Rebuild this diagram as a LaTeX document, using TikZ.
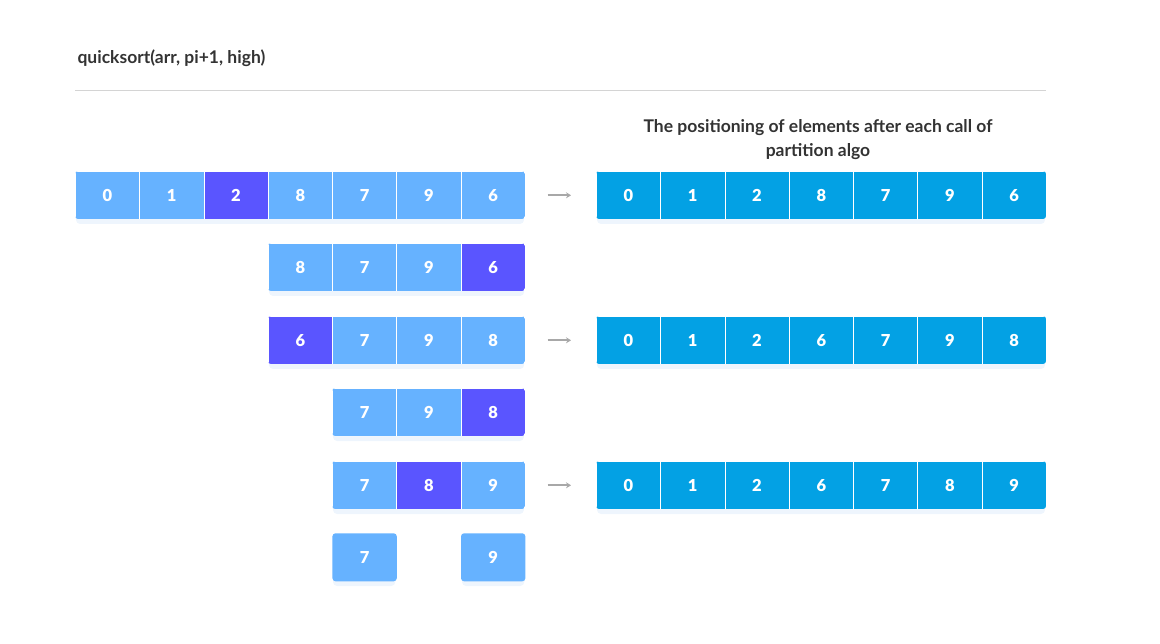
\documentclass[tikz,border=0pt]{standalone}
\usepackage{fontspec}
\setmainfont{Lato}
\newfontfamily\cellfont{Lato Black}
\usepackage{xcolor}
\usetikzlibrary{arrows.meta,positioning}

\definecolor{liteblue}{HTML}{66B2FF}
\definecolor{pivotblue}{HTML}{5A55FF}
\definecolor{doneblue}{HTML}{03A1E4}
\definecolor{inkgray}{HTML}{333333}
\definecolor{rulegray}{HTML}{D4D4D4}
\definecolor{arrowgray}{HTML}{A8A8A8}
\definecolor{halo}{HTML}{EEF5FD}

\newcommand{\cw}{64.29}

\tikzset{
  cell/.style={minimum width=\cw pt, minimum height=48pt, inner sep=0pt,
    text=white, font=\cellfont\fontsize{16.5}{16.5}\selectfont,
    draw=white, line width=0.6pt, anchor=north west},
  lite/.style={fill=liteblue},
  pivot/.style={fill=pivotblue},
  done/.style={fill=doneblue},
  callarrow/.style={draw=arrowgray, line width=1.8pt,
    -{Stealth[length=5pt,width=6pt]}, shorten <=22pt, shorten >=25pt},
}

\begin{document}
\begin{tikzpicture}[x=1pt,y=-1pt]
    \useasboundingbox (0,0) rectangle (1160,644);

    % heading
    \node[anchor=base west, text=inkgray, font=\fontsize{17.5}{21}\selectfont\bfseries] (title) at (74,64) {quicksort(arr, pi+1, high)};
    \draw[rulegray, line width=1pt] (75,91) -- (1046,91);
    \node[align=center, text=inkgray, font=\fontsize{17.5}{24}\selectfont\bfseries] (head) at (818,140)
        {The positioning of elements after each call of\\partition algo};

    % soft shadows under the rows
    \foreach \x/\y/\n in {75/171/7, 268/243/4, 268/316/4, 332/388/3, 332/461/3, 332/533/1, 461/533/1, 596/171/7, 596/316/7, 596/461/7}
        \fill[halo, rounded corners=4pt] (\x+1,\y+5) rectangle ++(\n*\cw-2,48);

    % row 1: pivot 2
    \begin{scope}
        \clip[rounded corners=3pt] (75,171) rectangle ++(7*\cw,48);
        \foreach \i/\v/\s in {0/0/lite,1/1/lite,2/2/pivot,3/8/lite,4/7/lite,5/9/lite,6/6/lite}
            \node[cell,\s] (a\i) at ({75+\i*\cw},171) {\v};
    \end{scope}

    % row 2: pivot 6
    \begin{scope}
        \clip[rounded corners=3pt] (75+3*\cw,243) rectangle ++(4*\cw,48);
        \foreach \i/\v/\s in {0/8/lite,1/7/lite,2/9/lite,3/6/pivot}
            \node[cell,\s] (b\i) at ({75+(\i+3)*\cw},243) {\v};
    \end{scope}

    % row 3: 6 in place
    \begin{scope}
        \clip[rounded corners=3pt] (75+3*\cw,316) rectangle ++(4*\cw,48);
        \foreach \i/\v/\s in {0/6/pivot,1/7/lite,2/9/lite,3/8/lite}
            \node[cell,\s] (c\i) at ({75+(\i+3)*\cw},316) {\v};
    \end{scope}

    % row 4: pivot 8
    \begin{scope}
        \clip[rounded corners=3pt] (75+4*\cw,388) rectangle ++(3*\cw,48);
        \foreach \i/\v/\s in {0/7/lite,1/9/lite,2/8/pivot}
            \node[cell,\s] (d\i) at ({75+(\i+4)*\cw},388) {\v};
    \end{scope}

    % row 5: 8 in place
    \begin{scope}
        \clip[rounded corners=3pt] (75+4*\cw,461) rectangle ++(3*\cw,48);
        \foreach \i/\v/\s in {0/7/lite,1/8/pivot,2/9/lite}
            \node[cell,\s] (e\i) at ({75+(\i+4)*\cw},461) {\v};
    \end{scope}

    % row 6: single elements
    \node[cell,lite,draw=none,rounded corners=3pt] (f0) at ({75+4*\cw},533) {7};
    \node[cell,lite,draw=none,rounded corners=3pt] (f1) at ({75+6*\cw},533) {9};

    % results after each partition
    \foreach \r/\y/\vals in {p/171/{0,1,2,8,7,9,6}, q/316/{0,1,2,6,7,9,8}, s/461/{0,1,2,6,7,8,9}} {
        \begin{scope}
            \clip[rounded corners=3pt] (596,\y) rectangle ++(7*\cw,48);
            \foreach \v [count=\k from 0] in \vals
                \node[cell,done] (\r\k) at ({596+\k*\cw},\y) {\v};
        \end{scope}
    }

    % arrows
    \draw[callarrow] (a6.east) -- (p0.west);
    \draw[callarrow] (c3.east) -- (q0.west);
    \draw[callarrow] (e2.east) -- (s0.west);
\end{tikzpicture}
\end{document}
